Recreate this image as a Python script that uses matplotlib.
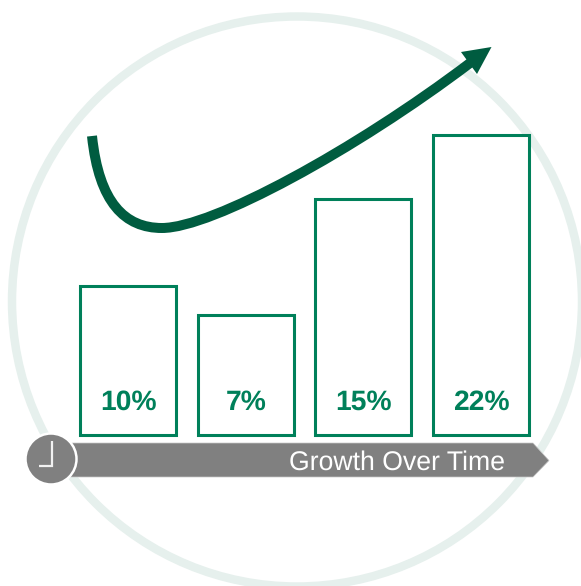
import matplotlib
matplotlib.use('Agg')
import matplotlib.pyplot as plt
from matplotlib.patches import Circle, PathPatch, Polygon
from matplotlib.path import Path

plt.rcParams['font.family'] = ['Liberation Sans', 'DejaVu Sans']
plt.rcParams['text.hinting'] = 'no_hinting'

# bar heights do not follow the labels in the original, so both are kept
labels = ['10%', '7%', '15%', '22%']
bar_centers = [127.7, 245.7, 363.2, 480.7]
bar_heights = [149, 120, 236, 300]
caption = 'Growth Over Time'

curve_pts = [(92, 136), (99, 203), (125, 228), (162, 228), (212, 228), (355, 150), (470, 63)]
head_pts = [(461, 52), (491.5, 47), (477, 74)]
band_pts = [(60, 443), (533, 443), (549, 460.5), (533, 477), (60, 477)]
clock_pts = [(39, 465.5), (51.5, 465.5), (51.5, 441)]

GREEN = '#00805a'
DARK = '#005c40'
GREY = '#808080'

fig = plt.figure(figsize=(5.81, 5.86), dpi=100)
ax = fig.add_axes([0, 0, 1, 1])
ax.set_xlim(0, 581)
ax.set_ylim(586, 0)
ax.axis('off')

# big pale ring behind everything
ax.add_patch(Circle((297, 301.5), 285, fill=False, ec='#e6f0ed', lw=6.1, zorder=1))

ax.bar(bar_centers, [-h for h in bar_heights], width=96, bottom=434.5, color='white',
       edgecolor=GREEN, linewidth=2.2, zorder=2)
for x, lab in zip(bar_centers, labels):
    ax.text(x + 0.5, 402.5, lab, ha='center', va='center', fontsize=20.3, fontweight='bold', color=GREEN, zorder=3)

# growth arrow
codes = [Path.MOVETO] + [Path.CURVE4] * 6
ax.add_patch(PathPatch(Path(curve_pts, codes), fill=False, ec=DARK, lw=7.2, capstyle='butt', zorder=4))
ax.add_patch(Polygon(head_pts, closed=True, fc=DARK, ec='none', zorder=4))

# time band with clock
ax.add_patch(Polygon(band_pts, closed=True, fc=GREY, ec='#c8c8c8', lw=0.5, zorder=5))
ax.text(505, 462.5, caption, ha='right', va='center', fontsize=19.2, color='white', zorder=6)
ax.add_patch(Circle((51, 459), 25.5, fc=GREY, ec='white', lw=1.8, zorder=6))
ax.plot([p[0] for p in clock_pts], [p[1] for p in clock_pts], color='#f2f2f2', lw=1.6,
        solid_joinstyle='miter', solid_capstyle='butt', zorder=7)

fig.savefig('out.png', dpi=100)
